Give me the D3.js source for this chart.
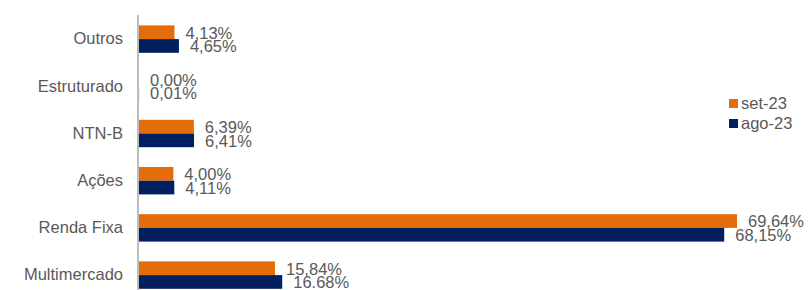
<!DOCTYPE html>
<meta charset="utf-8">
<head>
<script src="https://d3js.org/d3.v7.min.js"></script>
<style>
  body { margin: 0; background: #fff; }
  text { font-family: "Liberation Sans", Arial, sans-serif; fill: #595959; }
</style>
</head>
<body>
<div id="chart"></div>
<script>
// categories and values (%)
var categories = ["Outros", "Estruturado", "NTN-B", "Ações", "Renda Fixa", "Multimercado"];
var seriesNames = ["set-23", "ago-23"];
var setValues = [4.13, 0.00, 6.39, 4.00, 69.64, 15.84];
var agoValues = [4.65, 0.01, 6.41, 4.11, 68.15, 16.68];
var setLabels = ["4,13%", "0,00%", "6,39%", "4,00%", "69,64%", "15,84%"];
var agoLabels = ["4,65%", "0,01%", "6,41%", "4,11%", "68,15%", "16.68%"];
var colors = ["#E46C0A", "#002060"];

var width = 812, height = 290;
var margin = {left: 139, top: 15};
var fs = "16.5px";

var svg = d3.select("#chart").append("svg")
    .attr("width", width)
    .attr("height", height);

var x = d3.scaleLinear().domain([0, 69.64]).range([margin.left, 737]);
var y = d3.scaleBand().domain(categories).range([15.5, 298.7]);
var inner = d3.scaleBand().domain(seriesNames).range([0, 27.4]);

var rows = categories.map(function(c, i) {
  return [
    {cat: c, s: seriesNames[0], v: setValues[i], label: setLabels[i]},
    {cat: c, s: seriesNames[1], v: agoValues[i], label: agoLabels[i]}
  ];
}).flat();

function barTop(d) { return y(d.cat) + (y.bandwidth() - 27.4) / 2 + inner(d.s); }

svg.selectAll("rect.bar")
  .data(rows)
  .enter().append("rect")
    .attr("class", "bar")
    .attr("x", x(0))
    .attr("y", barTop)
    .attr("width", function(d) { return x(d.v) - x(0); })
    .attr("height", inner.bandwidth())
    .attr("fill", function(d) { return d.s === seriesNames[0] ? colors[0] : colors[1]; });

svg.selectAll("text.val")
  .data(rows)
  .enter().append("text")
    .attr("class", "val")
    .attr("x", function(d) { return x(d.v) + 11; })
    .attr("y", function(d) { return barTop(d) + inner.bandwidth() / 2 + 6.3; })
    .style("font-size", fs)
    .text(function(d) { return d.label; });

// category axis
var yAxis = svg.append("g")
    .attr("transform", "translate(" + (margin.left - 1) + ",0)")
    .call(d3.axisLeft(y).tickSize(0).tickPadding(15));
yAxis.select(".domain").attr("stroke", "#A6A6A6").attr("stroke-width", 1.5)
  .attr("d", "M0,15V290");
yAxis.selectAll("text")
  .style("font-size", fs)
  .style("font-family", "Liberation Sans, Arial, sans-serif")
  .attr("fill", "#595959");

// legend
var legend = svg.selectAll("g.leg")
  .data(seriesNames)
  .enter().append("g")
    .attr("class", "leg")
    .attr("transform", function(d, i) { return "translate(729," + (99 + i * 20) + ")"; });
legend.append("rect")
  .attr("width", 9).attr("height", 9)
  .attr("fill", function(d, i) { return colors[i]; });
legend.append("text")
  .attr("x", 12).attr("y", 10)
  .style("font-size", fs)
  .text(function(d) { return d; });
</script>
</body>
